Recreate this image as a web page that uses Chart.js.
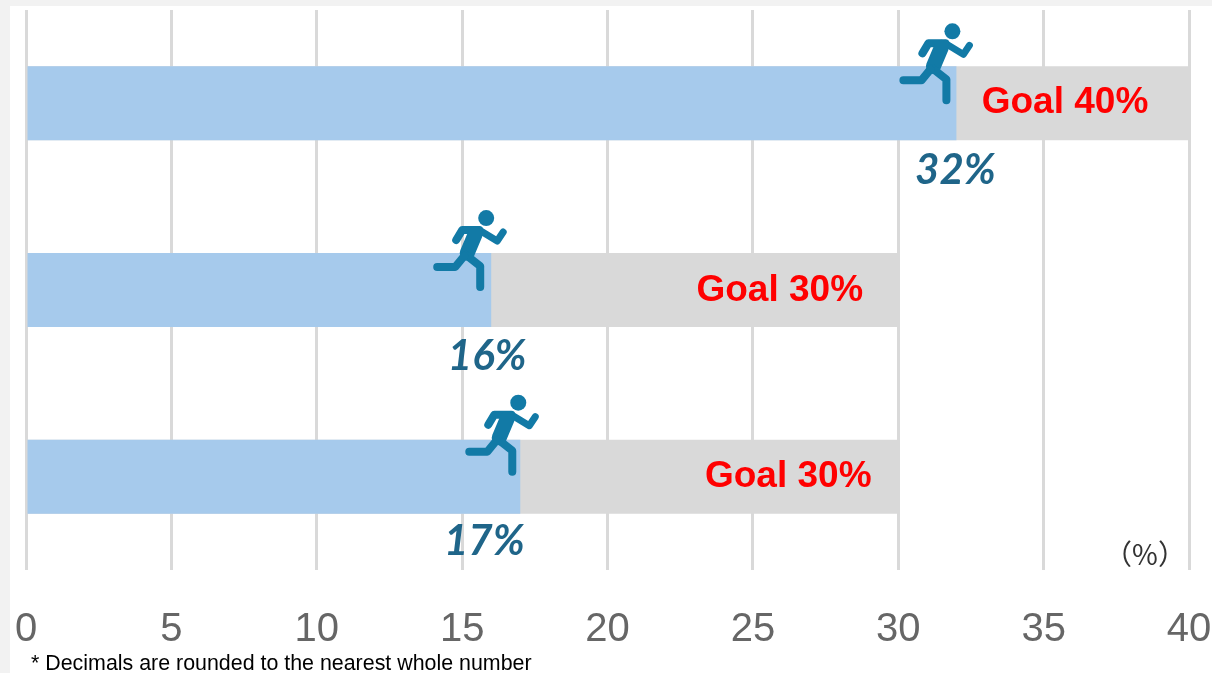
<!DOCTYPE html>
<html>
<head>
<meta charset="utf-8">
<style>
  html, body { margin: 0; padding: 0; background: #fff; overflow: hidden; }
  canvas { display: block; }
</style>
<script src="https://cdn.jsdelivr.net/npm/chart.js@4/dist/chart.umd.min.js"></script>
</head>
<body>
<canvas id="chart" width="1212" height="673"></canvas>
<script>
// values
const categories = ['Row 1', 'Row 2', 'Row 3']
const achieved = [32, 16, 17]
const goals = [40, 30, 30]
const achievedLabels = ['32%', '16%', '17%']
const goalLabels = ['Goal 40%', 'Goal 30%', 'Goal 30%']
const tickStep = 5
const axisMax = 40
const unitLabel = '（%）'
const footnote = '* Decimals are rounded to the nearest whole number'

// label nudges, in pixels, per row
const goalInset = [124, 118.5, 110]
const goalRaise = [1, -1, 0]
const achievedShift = [-1, -4, -36]
const achievedDrop = [30, 29, 28]
const runnerShift = [[-1, 0], [-2, 0], [1, -2]]

const BLUE = '#a6caec'
const GREY = '#d9d9d9'
const TEAL = '#1f6589'
const RUNNER = '#127aa6'
const SANS = '"Liberation Sans", Arial, sans-serif'

// runner icon, x/y relative to the top of the bar where the blue part ends
function drawRunner(ctx, x, y) {
  const line = (width, pts) => {
    ctx.lineWidth = width
    ctx.beginPath()
    pts.forEach((p, i) => i ? ctx.lineTo(p[0], p[1]) : ctx.moveTo(p[0], p[1]))
    ctx.stroke()
  }
  ctx.save()
  ctx.translate(x, y)
  ctx.strokeStyle = RUNNER
  ctx.fillStyle = RUNNER
  ctx.lineCap = 'round'
  ctx.lineJoin = 'round'
  ctx.beginPath()
  ctx.arc(-3, -35, 8, 0, Math.PI * 2)
  ctx.fill()
  line(8, [[-33, -13], [-27, -23], [-10, -23]])
  line(7, [[-10, -23], [8, -12], [14, -21]])
  line(15, [[-14, -19], [-22, 0]])
  line(8, [[-23, 2], [-9, 13], [-9, 34]])
  line(8, [[-25, 3], [-34, 14], [-52, 14]])
  ctx.restore()
}

const decorations = {
  id: 'decorations',
  beforeDraw(chart) {
    const { ctx, width, height } = chart
    ctx.save()
    ctx.fillStyle = '#fff'
    ctx.fillRect(0, 0, width, height)
    ctx.fillStyle = '#f2f2f2'
    ctx.fillRect(0, 0, width, 6)
    ctx.fillRect(0, 0, 10, height)
    ctx.restore()
  },
  afterDatasetsDraw(chart) {
    const { ctx, scales: { x, y } } = chart
    const meta = chart.getDatasetMeta(0)
    ctx.save()
    ctx.textAlign = 'center'
    ctx.textBaseline = 'middle'
    categories.forEach((c, i) => {
      const top = y.getPixelForValue(i) - meta.data[i].height / 2
      const bottom = top + meta.data[i].height
      const end = x.getPixelForValue(achieved[i])

      ctx.fillStyle = '#ff0000'
      ctx.font = 'bold 37px ' + SANS
      ctx.fillText(goalLabels[i], x.getPixelForValue(goals[i]) - goalInset[i], y.getPixelForValue(i) - goalRaise[i])

      ctx.fillStyle = TEAL
      ctx.font = 'italic bold 42px Lato, sans-serif'
      ctx.fillText(achievedLabels[i], end + achievedShift[i], bottom + achievedDrop[i])

      drawRunner(ctx, end + runnerShift[i][0], top + runnerShift[i][1])
    })
    ctx.fillStyle = '#333'
    ctx.font = '28px "Noto Sans CJK JP", sans-serif'
    ctx.fillText(unitLabel, 1145, 554)
    ctx.restore()
  },
  afterDraw(chart) {
    const { ctx, width } = chart
    ctx.save()
    // the tick labels are cut off by the footnote strip in the original
    ctx.fillStyle = '#fff'
    ctx.fillRect(10, 641, width - 10, 32)
    ctx.fillStyle = '#000'
    ctx.font = '21.4px ' + SANS
    ctx.textBaseline = 'alphabetic'
    ctx.fillText(footnote, 31, 670)
    ctx.restore()
  }
}

new Chart(document.getElementById('chart'), {
  type: 'bar',
  data: {
    labels: categories,
    datasets: [
      { label: 'Achieved', data: achieved, backgroundColor: BLUE, order: 1 },
      { label: 'Goal', data: goals, backgroundColor: GREY, order: 2 }
    ]
  },
  options: {
    indexAxis: 'y',
    responsive: false,
    animation: false,
    layout: { padding: { left: 26, right: 23, top: 10, bottom: 0 } },
    datasets: { bar: { barPercentage: 0.396, categoryPercentage: 1 } },
    scales: {
      x: {
        min: 0,
        max: axisMax,
        border: { display: false },
        grid: { color: GREY, lineWidth: 3, drawTicks: false },
        ticks: {
          stepSize: tickStep,
          maxRotation: 0,
          color: '#666',
          padding: 36,
          font: { family: SANS, size: 40 }
        },
        afterFit(scale) {
          scale.height = 103
          // keep the plot edges where the reference has them
          scale.paddingLeft = 0
          scale.paddingRight = 0
        }
      },
      y: { display: false, stacked: true }
    },
    plugins: { legend: { display: false }, tooltip: { enabled: false } }
  },
  plugins: [decorations]
})
</script>
</body>
</html>
